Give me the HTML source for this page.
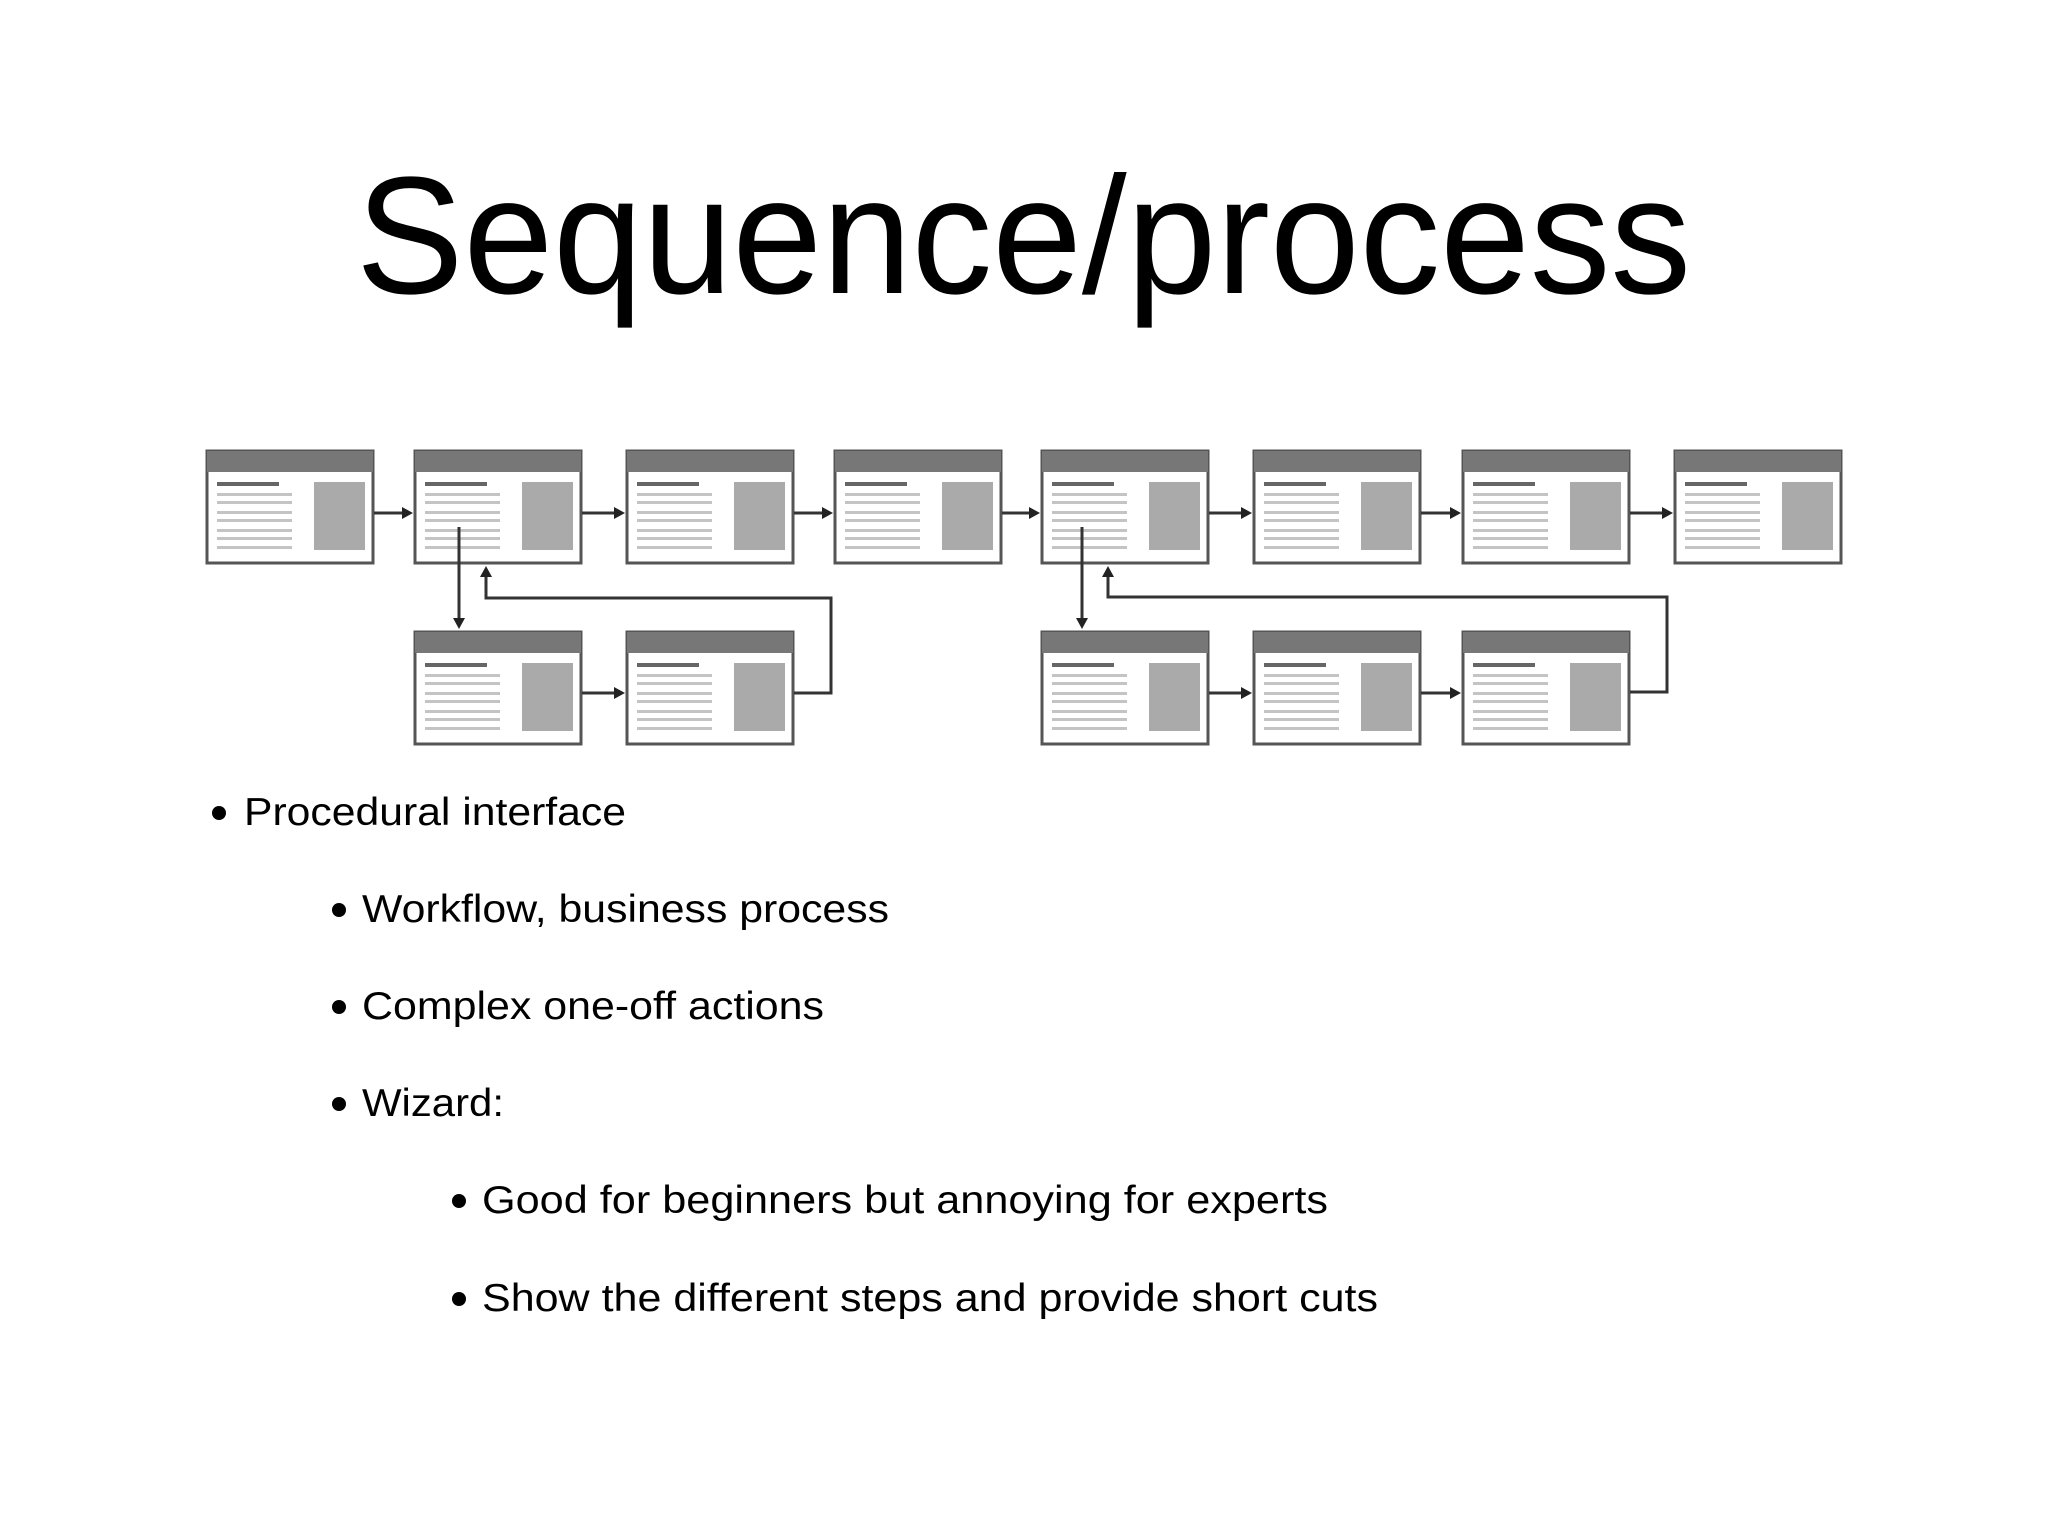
<!DOCTYPE html>
<html><head><meta charset="utf-8"><style>
html,body{margin:0;padding:0;background:#fff;}
svg{display:block;}
text{font-family:"Liberation Sans",sans-serif;fill:#000;}
</style></head><body>
<svg width="2048" height="1536" viewBox="0 0 2048 1536" xmlns="http://www.w3.org/2000/svg">
<defs>
<g id="box">
  <rect x="0" y="0" width="166" height="112" fill="#fff" stroke="#555" stroke-width="3"/>
  <rect x="0" y="0" width="166" height="21" fill="#777"/>
  <rect x="10" y="31" width="62" height="4" fill="#666"/>
  <g fill="#c4c4c4">
    <rect x="10" y="42" width="75" height="3"/>
    <rect x="10" y="50" width="75" height="3"/>
    <rect x="10" y="60" width="75" height="3"/>
    <rect x="10" y="68" width="75" height="3"/>
    <rect x="10" y="78" width="75" height="3"/>
    <rect x="10" y="86" width="75" height="3"/>
    <rect x="10" y="95" width="75" height="3"/>
  </g>
  <rect x="107" y="31" width="51" height="68" fill="#aaa"/>
</g>
<marker id="ah" markerWidth="12" markerHeight="12" refX="8" refY="6" orient="auto" markerUnits="userSpaceOnUse">
  <path d="M0,0 L11,6 L0,12 z" fill="#222"/>
</marker>
</defs>

<text x="356" y="293" font-size="167" textLength="1335" lengthAdjust="spacingAndGlyphs">Sequence/process</text>

<use href="#box" x="207" y="451"/>
<use href="#box" x="415" y="451"/>
<use href="#box" x="627" y="451"/>
<use href="#box" x="835" y="451"/>
<use href="#box" x="1042" y="451"/>
<use href="#box" x="1254" y="451"/>
<use href="#box" x="1463" y="451"/>
<use href="#box" x="1675" y="451"/>
<use href="#box" x="415" y="632"/>
<use href="#box" x="627" y="632"/>
<use href="#box" x="1042" y="632"/>
<use href="#box" x="1254" y="632"/>
<use href="#box" x="1463" y="632"/>

<g stroke="#333" stroke-width="3" fill="none" marker-end="url(#ah)">
  <line x1="374" y1="513" x2="410" y2="513"/>
  <line x1="582" y1="513" x2="622" y2="513"/>
  <line x1="794" y1="513" x2="830" y2="513"/>
  <line x1="1002" y1="513" x2="1037" y2="513"/>
  <line x1="1209" y1="513" x2="1249" y2="513"/>
  <line x1="1421" y1="513" x2="1458" y2="513"/>
  <line x1="1630" y1="513" x2="1670" y2="513"/>
  <line x1="582" y1="693" x2="622" y2="693"/>
  <line x1="1209" y1="693" x2="1249" y2="693"/>
  <line x1="1421" y1="693" x2="1458" y2="693"/>
  <line x1="459" y1="527" x2="459" y2="626"/>
  <line x1="1082" y1="527" x2="1082" y2="626"/>
  <polyline points="794,693 831,693 831,598 486,598 486,569"/>
  <polyline points="1630,692 1667,692 1667,597 1108,597 1108,569"/>
</g>

<g fill="#000">
  <circle cx="219" cy="813" r="7"/>
  <circle cx="339" cy="910" r="7"/>
  <circle cx="339" cy="1007" r="7"/>
  <circle cx="339" cy="1104" r="7"/>
  <circle cx="459" cy="1201" r="7"/>
  <circle cx="459" cy="1299" r="7"/>
</g>
<g font-size="39">
  <text x="244" y="825" textLength="382" lengthAdjust="spacingAndGlyphs">Procedural interface</text>
  <text x="362" y="922" textLength="527" lengthAdjust="spacingAndGlyphs">Workflow, business process</text>
  <text x="362" y="1019" textLength="462" lengthAdjust="spacingAndGlyphs">Complex one-off actions</text>
  <text x="362" y="1116" textLength="142" lengthAdjust="spacingAndGlyphs">Wizard:</text>
  <text x="482" y="1213" textLength="846" lengthAdjust="spacingAndGlyphs">Good for beginners but annoying for experts</text>
  <text x="482" y="1311" textLength="896" lengthAdjust="spacingAndGlyphs">Show the different steps and provide short cuts</text>
</g>
</svg>
</body></html>
